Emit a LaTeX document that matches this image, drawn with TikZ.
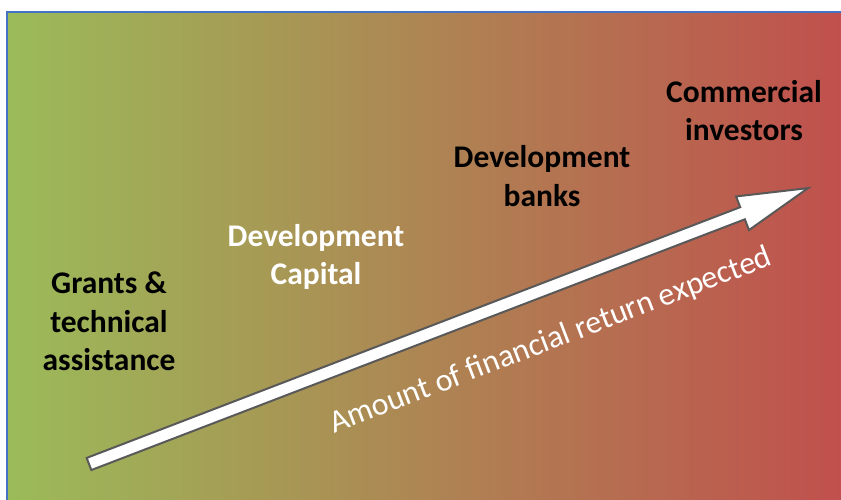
\documentclass[tikz,border=0pt]{standalone}
\usepackage{fontspec}
\setmainfont{Carlito}
\definecolor{lgreen}{RGB}{155,187,89}
\definecolor{rred}{RGB}{192,80,77}
\definecolor{borderblue}{RGB}{68,114,196}
\definecolor{arrowgray}{RGB}{89,89,89}
\tikzset{
  cat/.style={align=center, font=\fontsize{31.5}{38.5}\selectfont\bfseries, inner sep=0pt},
  catdark/.style={cat, text=black},
  catlight/.style={cat, text=white},
  bigarrow/.style={fill=white, draw=arrowgray, line width=2pt, line join=miter},
  arrowlabel/.style={font=\fontsize{32}{36}\selectfont, text=white, inner sep=0pt}
}
\begin{document}
\begin{tikzpicture}[x=1pt,y=1pt]
\useasboundingbox (0,0) rectangle (841,500);
\shade[left color=lgreen, right color=rred] (7,0) rectangle (841,488);
\draw[borderblue, line width=1.5pt] (7,0) -- (7,488) -- (841,488);

\coordinate (tail) at (89,36);
\coordinate (tip) at (808,312);
\begin{scope}[shift={(tail)}, rotate=20.99]
  \draw[bigarrow] (0,-6.5) -- (700,-6.5) -- (700,-18) -- (770.2,0) -- (700,18) -- (700,6.5) -- (0,6.5) -- cycle;
\end{scope}

\node[arrowlabel, anchor=base, rotate=21] (lbl) at (554,151) {Amount of financial return expected};

\node[catdark] (grants) at (109,178.5) {Grants \&\\technical\\assistance};
\node[catlight] (devcap) at (316,243) {Development\\Capital};
\node[catdark] (devbank) at (542,324) {Development\\banks};
\node[catdark] (comm) at (744,389.5) {Commercial\\investors};
\end{tikzpicture}
\end{document}
